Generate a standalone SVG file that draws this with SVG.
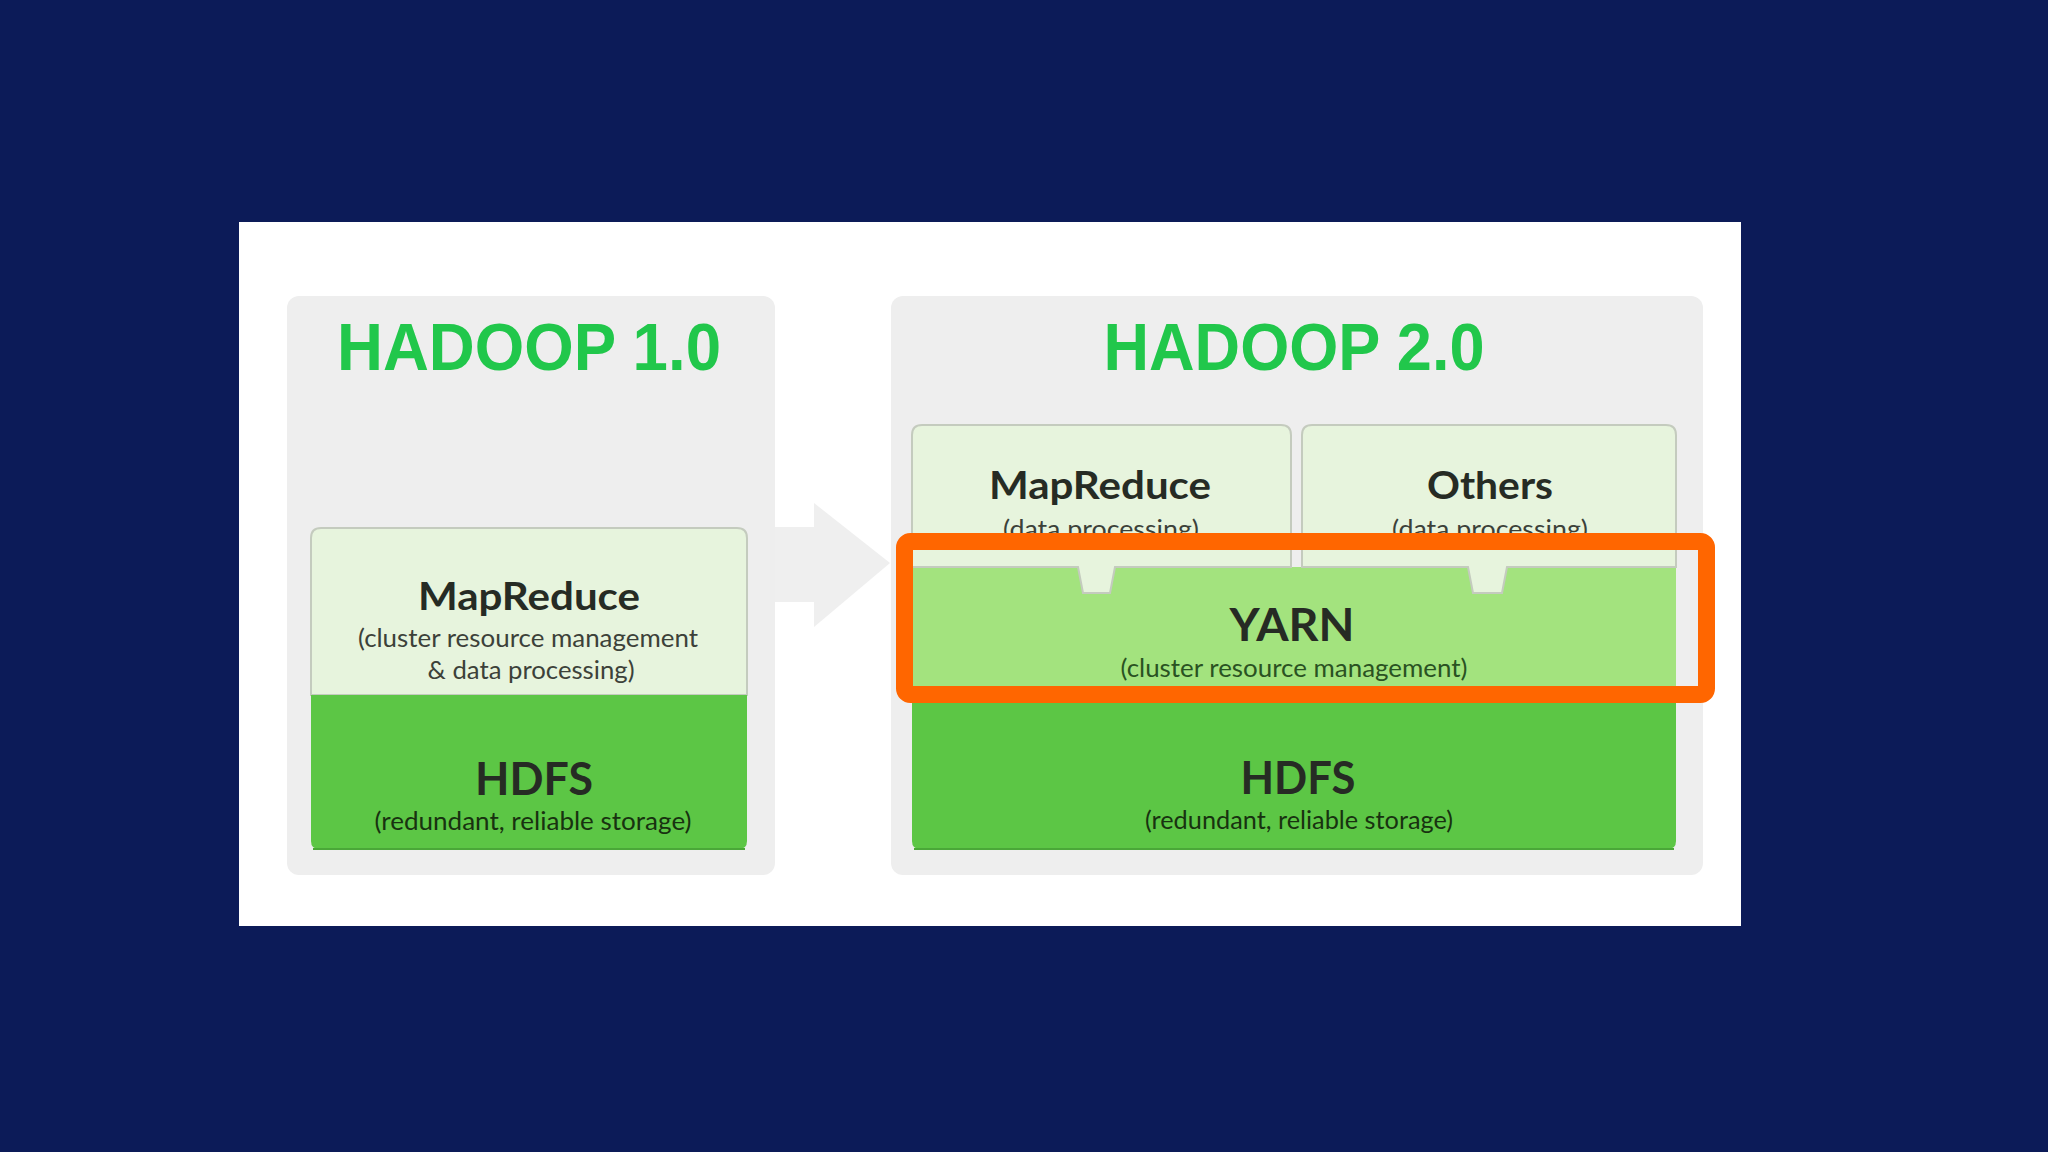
<svg xmlns="http://www.w3.org/2000/svg" width="2048" height="1152" viewBox="0 0 2048 1152">
  <defs>
    <style>
      .title { font-family: "Liberation Sans", Arial, sans-serif; font-weight: bold; font-size: 67px; fill: #21c74b; text-anchor: middle; }
      .head { font-family: Lato, "Open Sans", sans-serif; font-weight: bold; fill: #262b24; text-anchor: middle; }
      .sub { font-family: Lato, "Open Sans", sans-serif; font-weight: normal; font-size: 25px; text-anchor: middle; }
      .panel { fill: #eeeeee; }
      .light { fill: #e7f4dd; stroke: #c4cbbe; stroke-width: 2; }
      .yarn { fill: #a3e37e; }
      .hdfs { fill: #5cc645; }
    </style>
  </defs>

  <rect x="0" y="0" width="2048" height="1152" fill="#0c1b58"/>
  <rect x="239" y="222" width="1502" height="704" fill="#ffffff"/>

  <g id="connectors">
    <polygon points="775,527 814,527 814,503 890,563 814,627 814,602 775,602" fill="#efefef"/>
  </g>

  <g id="hadoop1">
    <rect class="panel" x="287" y="296" width="488" height="579" rx="12"/>
    <text class="title" x="529" y="370" textLength="384" lengthAdjust="spacingAndGlyphs">HADOOP 1.0</text>
  </g>

  <g id="hadoop1-mapreduce">
    <path d="M311,695 V538 Q311,528 321,528 H737 Q747,528 747,538 V695 Z" class="light"/>
    <text class="head" x="529" y="610" font-size="39" textLength="222" lengthAdjust="spacingAndGlyphs">MapReduce</text>
    <text class="sub" x="528" y="647" fill="#3c4139" textLength="340" lengthAdjust="spacingAndGlyphs">(cluster resource management</text>
    <text class="sub" x="531" y="679" fill="#3c4139" textLength="207" lengthAdjust="spacingAndGlyphs">&amp; data processing)</text>
  </g>

  <g id="hadoop1-hdfs">
    <path d="M311,695 H747 V841 Q747,849 739,849 H319 Q311,849 311,841 Z" class="hdfs"/>
    <line x1="313" y1="849" x2="745" y2="849" stroke="#4aa838" stroke-width="2"/>
    <text class="head" x="534" y="795" font-size="46" fill="#0f1a0c" textLength="118" lengthAdjust="spacingAndGlyphs">HDFS</text>
    <text class="sub" x="533" y="830" fill="#183210" textLength="317" lengthAdjust="spacingAndGlyphs">(redundant, reliable storage)</text>
  </g>

  <g id="hadoop2">
    <rect class="panel" x="891" y="296" width="812" height="579" rx="12"/>
    <text class="title" x="1294" y="370" textLength="381" lengthAdjust="spacingAndGlyphs">HADOOP 2.0</text>
  </g>

  <g id="hadoop2-hdfs">
    <path d="M912,692 H1676 V841 Q1676,849 1668,849 H920 Q912,849 912,841 Z" class="hdfs"/>
    <line x1="914" y1="849" x2="1674" y2="849" stroke="#4aa838" stroke-width="2"/>
    <text class="head" x="1298" y="794" font-size="46" fill="#0f1a0c" textLength="115" lengthAdjust="spacingAndGlyphs">HDFS</text>
    <text class="sub" x="1299" y="829" fill="#183210" textLength="308" lengthAdjust="spacingAndGlyphs">(redundant, reliable storage)</text>
  </g>

  <g id="yarn">
    <rect class="yarn" x="912" y="567" width="764" height="125"/>
    <text class="head" x="1292" y="641" font-size="46" textLength="125" lengthAdjust="spacingAndGlyphs">YARN</text>
    <text class="sub" x="1294" y="677" fill="#2a5222" textLength="347" lengthAdjust="spacingAndGlyphs">(cluster resource management)</text>
  </g>

  <g id="hadoop2-mapreduce">
    <path d="M912,567 V435 Q912,425 922,425 H1281 Q1291,425 1291,435 V567 H1115 L1110,593 H1083 L1078,567 Z" class="light"/>
    <text class="head" x="1100" y="499" font-size="39" textLength="222" lengthAdjust="spacingAndGlyphs">MapReduce</text>
    <text class="sub" x="1101" y="538" fill="#3c4139" textLength="196" lengthAdjust="spacingAndGlyphs">(data processing)</text>
  </g>

  <g id="others">
    <path d="M1302,567 V435 Q1302,425 1312,425 H1666 Q1676,425 1676,435 V567 H1507 L1502,593 H1473 L1468,567 Z" class="light"/>
    <text class="head" x="1490" y="499" font-size="38" textLength="126" lengthAdjust="spacingAndGlyphs">Others</text>
    <text class="sub" x="1490" y="538" fill="#3c4139" textLength="196" lengthAdjust="spacingAndGlyphs">(data processing)</text>
  </g>

  <g id="highlight">
    <rect x="904.5" y="541.5" width="802" height="153" rx="6" fill="none" stroke="#ff6600" stroke-width="17"/>
  </g>
</svg>
